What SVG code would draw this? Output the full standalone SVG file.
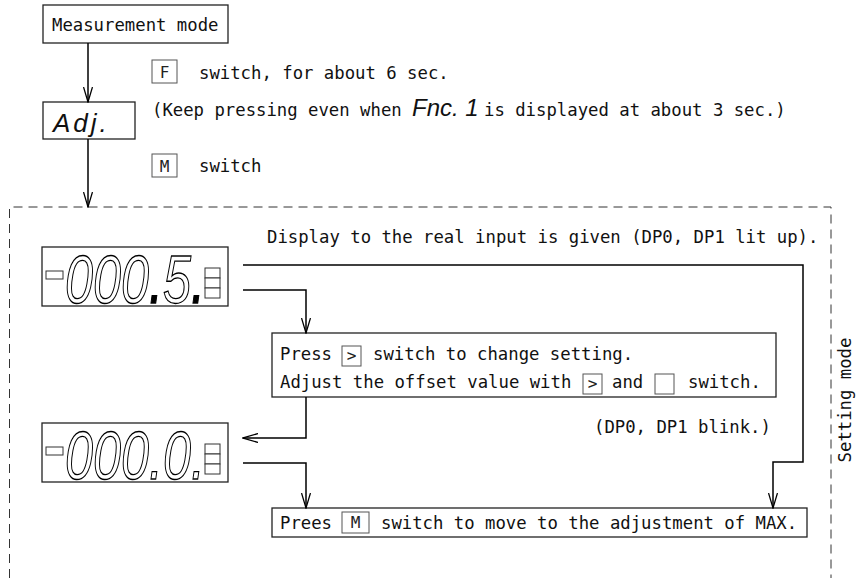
<svg xmlns="http://www.w3.org/2000/svg" width="862" height="578" viewBox="0 0 862 578">
<style>
.t{font-family:"DejaVu Sans Mono","Liberation Mono",monospace;font-size:17.3px;fill:#111}
.kt{font-family:"DejaVu Sans Mono","Liberation Mono",monospace;font-size:16px;fill:#222;text-anchor:middle}
.box{fill:#fff;stroke:#222;stroke-width:1.3}
.key{fill:#fff;stroke:#555;stroke-width:1}
.lbl7{font-family:"Liberation Sans",Arial,sans-serif;font-style:italic;fill:#111}
.seg{font-family:"Liberation Sans",Arial,sans-serif;font-style:italic;font-size:68px;fill:#fff;stroke:#000;stroke-width:1.3}
.lit{fill:#000}
.hol{fill:#fff}
.small{fill:#fff;stroke:#333;stroke-width:1}
.conn{fill:none;stroke:#000;stroke-width:1.5;marker-end:url(#ah)}
.dash{fill:none;stroke:#333;stroke-width:1;stroke-dasharray:9 6}
</style>
<defs>
<marker id="ah" viewBox="0 0 16 10" refX="15" refY="5" markerWidth="16" markerHeight="10" markerUnits="userSpaceOnUse" orient="auto">
<path d="M0,0.5 L15,5 L0,9.5" fill="none" stroke="#000" stroke-width="1.3"/>
</marker>
</defs>

<g id="setting-mode">
<path class="dash" d="M9.5,578 V207 H831 V578"/>
<text class="t" transform="translate(851,400) rotate(-90)" text-anchor="middle">Setting mode</text>
</g>

<g id="measurement-mode">
<rect class="box" x="43" y="5" width="185" height="38"/>
<text class="t" x="52" y="31">Measurement mode</text>
</g>

<g id="adj">
<rect class="box" x="43" y="102" width="92" height="37"/>
<text class="lbl7" x="53" y="132" font-size="26" letter-spacing="3">Adj.</text>
</g>

<g id="note-f">
<rect class="key" x="152" y="60" width="25" height="23"/>
<text class="kt" x="164.5" y="78">F</text>
<text class="t" x="199" y="79">switch, for about 6 sec.</text>
<text class="t" x="152" y="116">(Keep pressing even when</text>
<text class="lbl7" x="412" y="116" font-size="24">Fnc. 1</text>
<text class="t" x="484" y="116">is displayed at about 3 sec.)</text>
</g>

<g id="note-m">
<rect class="key" x="152" y="154" width="25" height="23"/>
<text class="kt" x="164.5" y="172">M</text>
<text class="t" x="199" y="172">switch</text>
</g>

<g id="note-real">
<text class="t" x="267" y="243">Display to the real input is given (DP0, DP1 lit up).</text>
</g>

<g id="display-real">
<rect class="box" x="42" y="247" width="186" height="59"/>
<rect class="small" x="46" y="271" width="17" height="8"/>
<g transform="scale(0.74,1)">
<text class="seg" x="88" y="303">000<tspan class="lit">.</tspan>5<tspan class="lit">.</tspan></text>
</g>
<rect class="small" x="205" y="268" width="15" height="10"/>
<rect class="small" x="205" y="278" width="15" height="10"/>
<rect class="small" x="205" y="288" width="15" height="10"/>
</g>

<g id="press-box">
<rect class="box" x="272" y="333" width="504" height="64"/>
<text class="t" x="280" y="360">Press</text>
<rect class="key" x="342" y="346" width="19" height="20"/>
<text class="kt" x="351.5" y="361">&gt;</text>
<text class="t" x="373" y="360">switch to change setting.</text>
<text class="t" x="280" y="388">Adjust the offset value with</text>
<rect class="key" x="583" y="374" width="19" height="20"/>
<text class="kt" x="592.5" y="389">&gt;</text>
<text class="t" x="612" y="388">and</text>
<rect class="key" x="655" y="374" width="19" height="20"/>
<text class="t" x="688" y="388">switch.</text>
</g>

<g id="note-blink">
<text class="t" x="594" y="433">(DP0, DP1 blink.)</text>
</g>

<g id="display-set">
<rect class="box" x="42" y="423" width="186" height="59"/>
<rect class="small" x="46" y="447" width="17" height="8"/>
<g transform="scale(0.74,1)">
<text class="seg" x="88" y="479">000<tspan class="hol">.</tspan>0<tspan class="hol">.</tspan></text>
</g>
<rect class="small" x="205" y="444" width="15" height="10"/>
<rect class="small" x="205" y="454" width="15" height="10"/>
<rect class="small" x="205" y="464" width="15" height="10"/>
</g>

<g id="prees-box">
<rect class="box" x="272" y="508" width="535" height="29"/>
<text class="t" x="280" y="529">Prees</text>
<rect class="key" x="342" y="512" width="27" height="21"/>
<text class="kt" x="355.5" y="528">M</text>
<text class="t" x="381" y="529">switch to move to the adjustment of MAX.</text>
</g>

<g id="connectors">
<path class="conn" d="M88,43 V102"/>
<path class="conn" d="M88,139 V207"/>
<path class="conn" d="M243,265 H803 V462 H773 V508"/>
<path class="conn" d="M243,290 H306 V333"/>
<path class="conn" d="M306,397 V438 H243"/>
<path class="conn" d="M243,463 H306 V508"/>
</g>
</svg>
